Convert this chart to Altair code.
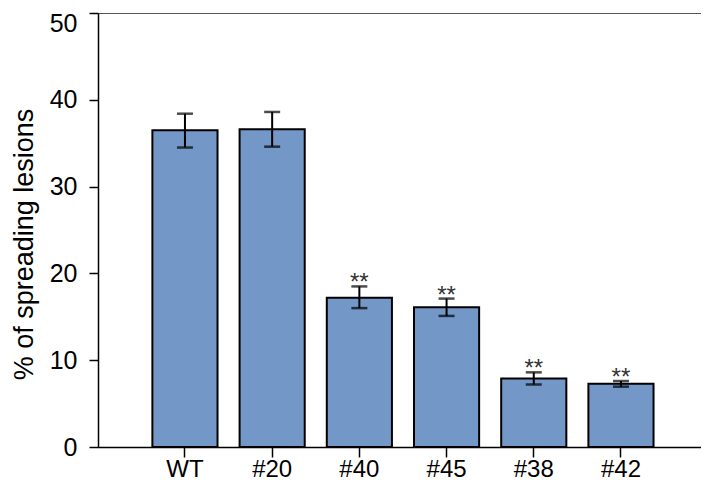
import altair as alt
import pandas as pd

categories = ["WT", "#20", "#40", "#45", "#38", "#42"]
means = [36.5, 36.6, 17.2, 16.1, 7.9, 7.3]
err_low = [34.5, 34.6, 16.0, 15.1, 7.2, 6.95]
err_high = [38.4, 38.6, 18.5, 17.1, 8.6, 7.6]
stars = ["", "", "**", "**", "**", "**"]

df = pd.DataFrame({"cat": categories, "mean": means, "lo": err_low,
                   "hi": err_high, "star": stars})

xs = alt.X("cat:N", sort=categories, title=None,
           scale=alt.Scale(paddingInner=0.253, paddingOuter=0.584, align=0.534),
           axis=alt.Axis(labelAngle=0, labelFontSize=24, labelPadding=0,
                         labelBaseline="top", tickSize=10))
ys = alt.Y("mean:Q", title="% of spreading lesions",
           scale=alt.Scale(domain=[0, 50], nice=False),
           axis=alt.Axis(values=[0, 10, 20, 30, 40, 50], labelFontSize=25,
                         labelOffset={"condition": {"test": "datum.value == 50", "value": 10},
                                      "value": 0},
                         titleFontSize=27, titleX=-66, titleY=231,
                         titleBaseline="alphabetic", labelPadding=12))

base = alt.Chart(df)
bars = base.mark_bar(color="#7397C6", stroke="black", strokeWidth=2).encode(x=xs, y=ys)
rules = base.mark_rule(color="black", strokeWidth=2).encode(
    x=alt.X("cat:N", sort=categories), y="lo:Q", y2="hi:Q")
cap_lo = base.mark_tick(color="black", thickness=2.5, size=16).encode(
    x=alt.X("cat:N", sort=categories), y="lo:Q")
cap_hi = base.mark_tick(color="black", thickness=2.5, size=16).encode(
    x=alt.X("cat:N", sort=categories), y="hi:Q")
text = base.mark_text(font="Liberation Sans", fontSize=24, color="#333333",
                      baseline="alphabetic", dy=4).encode(
    x=alt.X("cat:N", sort=categories), y="hi:Q", text="star:N")

chart = alt.layer(bars, rules, cap_lo, cap_hi, text).properties(
    width=603, height=434,
    autosize=alt.AutoSizeParams(type="none"),
    padding={"left": 90, "top": 5, "right": 0, "bottom": 33},
).configure_view(
    stroke="#555555", strokeWidth=1
).configure_axis(
    grid=False, labelFont="Liberation Sans", labelColor="black",
    titleFont="Liberation Sans", titleColor="black", titleFontWeight="normal",
    domainColor="black", domainWidth=1.5, tickColor="black", tickWidth=1.5,
    tickSize=9
)

chart.save("out.html", embed_options={"renderer": "svg", "actions": False})
